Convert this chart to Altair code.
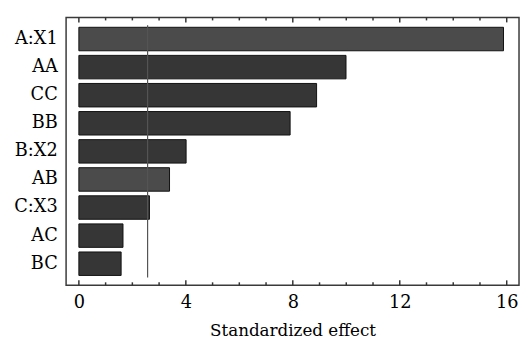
import altair as alt
import pandas as pd

terms = ["A:X1", "AA", "CC", "BB", "B:X2", "AB", "C:X3", "AC", "BC"]
effects = [15.88, 9.99, 8.89, 7.90, 4.01, 3.39, 2.64, 1.65, 1.58]
shade = ["light", "dark", "dark", "dark", "dark", "light", "dark", "dark", "dark"]
ref_value = 2.57
major_ticks = [0, 4, 8, 12, 16]
minor_ticks = [1, 2, 3, 5, 6, 7, 9, 10, 11, 13, 14, 15]

W, H = 460, 272
FONT = "DejaVu Serif"

df = pd.DataFrame({"term": terms, "effect": effects, "shade": shade})
ref_df = pd.DataFrame({"x": [ref_value]})
maj_df = pd.DataFrame({"x": major_ticks})
min_df = pd.DataFrame({"x": minor_ticks})

xscale = alt.Scale(domain=[-0.478, 16.46], nice=False, zero=False)

bars = alt.Chart(df).mark_bar(stroke="#111111", strokeWidth=1).encode(
    x=alt.X("effect:Q", scale=xscale,
            axis=alt.Axis(values=major_ticks, ticks=False, domain=False, grid=False,
                          title="Standardized effect", labelPadding=9,
                          titlePadding=11, format="d")),
    y=alt.Y("term:N", sort=terms,
            scale=alt.Scale(paddingInner=0.164, paddingOuter=0.35),
            axis=alt.Axis(title=None, ticks=False, domain=False, grid=False,
                          labelPadding=9)),
    color=alt.Color("shade:N", scale=alt.Scale(domain=["light", "dark"],
                                                range=["#4b4b4b", "#363636"]),
                    legend=None),
)

ref = alt.Chart(ref_df).mark_rule(color="#555555", strokeWidth=1.2).encode(
    x=alt.X("x:Q", scale=xscale), y=alt.value(8), y2=alt.value(264)
)

def ticks(data, length):
    bottom = alt.Chart(data).mark_rule(color="#333333", strokeWidth=1.5).encode(
        x=alt.X("x:Q", scale=xscale), y=alt.value(H), y2=alt.value(H - length)
    )
    top = alt.Chart(data).mark_rule(color="#333333", strokeWidth=1.5).encode(
        x=alt.X("x:Q", scale=xscale), y=alt.value(0), y2=alt.value(length)
    )
    return bottom + top

chart = alt.layer(
    bars, ref, ticks(maj_df, 5), ticks(min_df, 3)
).properties(
    width=W, height=H,
    background="white",
    autosize=alt.AutoSizeParams(type="none"),
    padding={"left": 59, "top": 7, "right": 1, "bottom": 55},
).configure(
    font=FONT
).configure_view(
    stroke="#3a3a3a", strokeWidth=1.5
).configure_axis(
    labelFont=FONT, labelFontSize=18, labelColor="black",
    titleFont=FONT, titleFontSize=17, titleFontWeight="normal", titleColor="black",
)

chart.save("out.html", embed_options={"renderer": "svg", "actions": False})
